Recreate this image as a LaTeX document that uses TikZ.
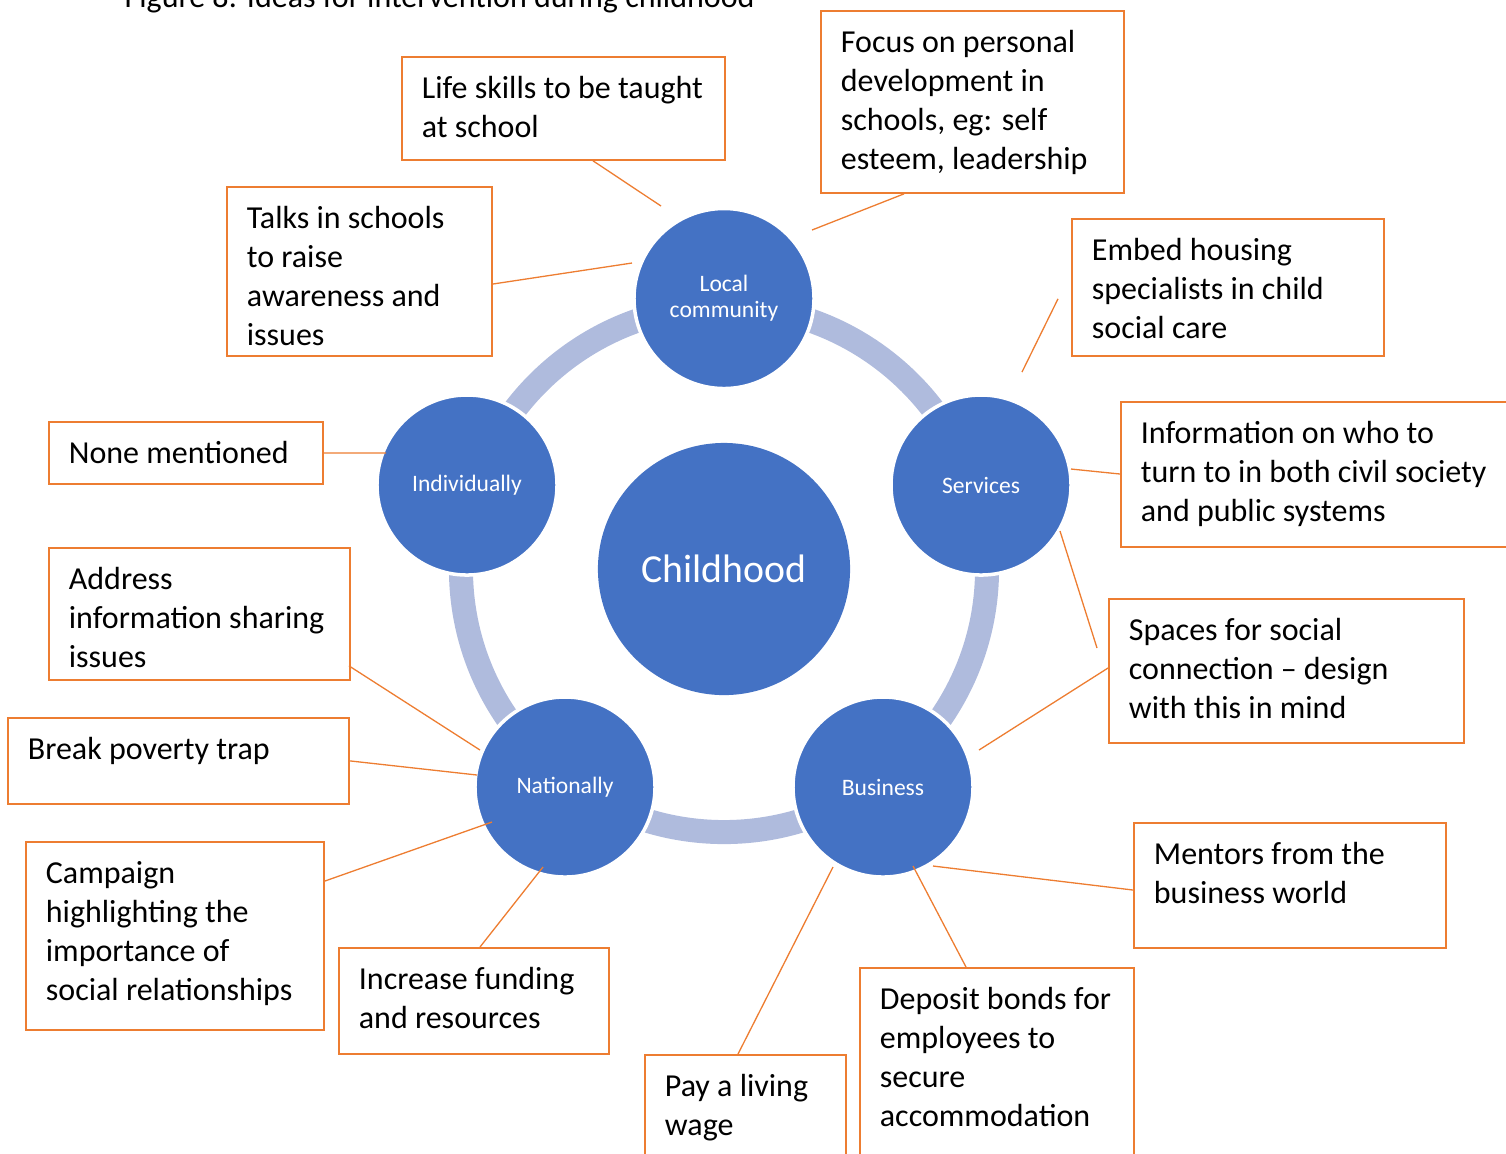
\documentclass[tikz,border=0pt]{standalone}
\usepackage{fontspec}
\setmainfont{Carlito}
\definecolor{accblue}{HTML}{4472C4}
\definecolor{ringblue}{HTML}{AFBBDD}
\definecolor{accorange}{HTML}{ED7D31}
\newdimen\pxu \pxu=0.28453pt
\tikzset{
  infobox/.style={draw=accorange, line width=0.5pt, anchor=north west, inner xsep=5.69pt, inner ysep=3.98pt, font=\fontsize{9.1}{11.1}\selectfont},
  hub/.style={circle, fill=accblue, draw=white, line width=1pt, minimum size=51.2pt, inner sep=0pt, text=white, font=\fontsize{6.7}{7.4}\selectfont, align=center},
  core/.style={circle, fill=accblue, minimum size=71.7pt, inner sep=0pt, text=white, font=\fontsize{11.3}{13}\selectfont},
  conn/.style={draw=accorange, line width=0.37pt},
  ringline/.style={draw=ringblue, line width=6.83pt},
  titletext/.style={anchor=base west, inner sep=0pt, font=\fontsize{9.1}{11.1}\selectfont}
}
\newcommand\infobox[6]{%
  \node[infobox, name=#1] at (#2,#3) {\parbox[t][\dimexpr #5\pxu-28\pxu\relax][t]{\dimexpr #4\pxu-40\pxu\relax}{\strut #6}};}
\begin{document}
\begin{tikzpicture}[x=0.01cm, y=-0.01cm]
\useasboundingbox (0,0) rectangle (1506,1153);
\node[titletext] (title) at (124,7) {Figure 8: Ideas for intervention during childhood};

% centre and ring
\node[core] (child) at (724,569) {Childhood};
\draw[ringline] (child.center) circle[radius=74.8pt];
\node[hub] (local) at (724,298.5) {Local\\community};
\node[hub] (indiv) at (467,485) {Individually};
\node[hub] (serv) at (981,485) {Services};
\node[hub] (nat) at (565,787) {Nationally};
\node[hub] (bus) at (883,787) {Business};

% boxes
\infobox{lifeskills}{401}{56}{323}{103}{Life skills to be taught\\at school}
\infobox{focus}{820}{10}{303}{182}{Focus on personal\\development in\\schools, eg: self\\esteem, leadership}
\infobox{talks}{226}{186}{265}{169}{Talks in schools\\to raise\\awareness and\\issues}
\infobox{embed}{1071}{218}{312}{137}{Embed housing\\specialists in child\\social care}
\infobox{none}{48}{421}{274}{62}{None mentioned}
\infobox{info}{1120}{401}{410}{145}{Information on who to\\turn to in both civil society\\and public systems}
\infobox{spaces}{1108}{598}{355}{144}{Spaces for social\\connection -- design\\with this in mind}
\infobox{address}{48}{547}{301}{132}{Address\\information sharing\\issues}
\infobox{poverty}{7}{717}{341}{86}{Break poverty trap}
\infobox{campaign}{25}{841}{298}{188}{Campaign\\highlighting the\\importance of\\social relationships}
\infobox{funding}{338}{947}{270}{106}{Increase funding\\and resources}
\infobox{mentors}{1133}{822}{312}{125}{Mentors from the\\business world}
\infobox{deposit}{859}{967}{274}{210}{Deposit bonds for\\employees to\\secure\\accommodation}
\infobox{wage}{644}{1054}{201}{120}{Pay a living\\wage}

% free ends near the circles
\coordinate (e1) at (661,206);
\coordinate (e2) at (812,230);
\coordinate (e3) at (632,263);
\coordinate (e4) at (1022,372);
\coordinate (e5) at (386,453);
\coordinate (e6) at (1071,469);
\coordinate (e7) at (1060,531);
\coordinate (e8) at (979,750);
\coordinate (e9) at (480,750);
\coordinate (e10) at (477,775);
\coordinate (e11) at (492,822);
\coordinate (e12) at (543,867);
\coordinate (e13) at (933,866);
\coordinate (e14) at (913,866);
\coordinate (e15) at (833,867);

% connectors
\draw[conn] (lifeskills.south west) ++(192,0) -- (e1);
\draw[conn] (focus.south west) ++(84,0) -- (e2);
\draw[conn] (talks.north east) ++(0,98) -- (e3);
\draw[conn] (embed.south west) ++(-13,-58) -- (e4);
\draw[conn] (none.east) -- (e5);
\draw[conn] (info.north west) ++(0,73) -- (e6);
\draw[conn] (spaces.north west) ++(-11,50) -- (e7);
\draw[conn] (spaces.north west) ++(0,70) -- (e8);
\draw[conn] (address.south east) ++(-2,-15) -- (e9);
\draw[conn] (poverty.east) -- (e10);
\draw[conn] (campaign.north east) ++(0,40) -- (e11);
\draw[conn] (funding.north west) ++(142,0) -- (e12);
\draw[conn] (mentors.north west) ++(0,68) -- (e13);
\draw[conn] (deposit.north west) ++(107,0) -- (e14);
\draw[conn] (wage.north west) ++(94,0) -- (e15);
\end{tikzpicture}
\end{document}
